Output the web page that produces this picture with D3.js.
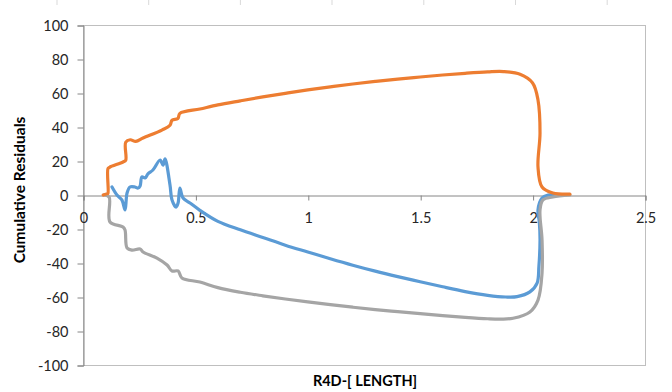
<!DOCTYPE html>
<html><head><meta charset="utf-8">
<script src="https://cdn.jsdelivr.net/npm/d3@7"></script>
<style>body{margin:0;background:#fff}svg{display:block}</style>
</head><body>
<svg id="c" width="672" height="392"></svg>
<script>
const xTicks = [0, 0.5, 1, 1.5, 2, 2.5];
const yTicks = [-100, -80, -60, -40, -20, 0, 20, 40, 60, 80, 100];
const xTitle = "R4D-[ LENGTH]";
const yTitle = "Cumulative Residuals";

const blueX = [0.129,0.151,0.173,0.187,0.196,0.209,0.231,0.245,0.254,0.262,0.276,0.289,0.311,0.343,0.356,0.365,0.387,0.396,0.414,0.423,0.431,0.445,0.476,0.52,0.6,0.7,0.8,0.9,1.0,1.1,1.2,1.3,1.4,1.5,1.6,1.7,1.8,1.88,1.931,1.988,2.02,2.028,2.033,2.03,2.024,2.042,2.07,2.1];
const blueY = [4.7,0,-2.9,-8.8,1.2,4.7,4.7,4.1,5.3,10.6,10,12.4,14.7,20.6,17.6,21.2,5.9,-2.9,-7.1,-4.7,4.1,-1.8,-4.7,-9,-15.5,-20.5,-25,-29.5,-33.5,-37.5,-41.3,-44.8,-48,-51,-54,-56.8,-59,-60,-59.8,-57,-51.8,-42,-26.5,-16,-8.8,-1.8,0,0.3];

const grayX = [0.093,0.116,0.12,0.178,0.187,0.196,0.218,0.254,0.267,0.329,0.374,0.396,0.423,0.44,0.52,0.6,0.7,0.8,0.9,1.0,1.1,1.2,1.3,1.4,1.5,1.6,1.7,1.8,1.86,1.913,1.988,2.024,2.042,2.042,2.033,2.046,2.09,2.166];
const grayY = [0,-1.2,-15.9,-18.8,-20.6,-31.2,-32.4,-31.8,-33.5,-37.1,-41.2,-44.7,-44.7,-48.8,-51.2,-54.5,-57.2,-59.3,-61.2,-62.9,-64.5,-66,-67.4,-68.6,-69.8,-71,-72,-72.8,-73,-72.5,-68.8,-61.8,-45.9,-26.5,-8.8,-2.9,-1.2,0];

const orangeX = [0.09,0.108,0.111,0.111,0.118,0.178,0.19,0.19,0.21,0.235,0.267,0.351,0.387,0.396,0.422,0.431,0.52,0.6,0.7,0.8,0.9,1.0,1.1,1.2,1.3,1.4,1.5,1.6,1.7,1.8,1.87,1.944,2.0,2.024,2.033,2.024,2.042,2.09,2.166];
const orangeY = [0,0.8,1,15.5,16.3,19.4,20.5,31,32.5,31.5,33.5,38.2,41,44,45,48,50.6,53,55.4,57.7,59.8,61.8,63.6,65.3,66.8,68.2,69.4,70.6,71.6,72.4,72.6,71,65.9,55.9,36.5,16.5,4.7,1.2,0.5];

const svg = d3.select("#c");
const L = 83, R = 645, T = 25, B = 365;
const x = d3.scaleLinear().domain([0, 2.5]).range([L, R]);
const y = d3.scaleLinear().domain([-100, 100]).range([B, T]);
const font = "Lato, 'Open Sans', sans-serif";

// faint spreadsheet cell lines at top
[57,148.7,240.4,332,423.8,515.5,607.2].forEach(px => {
  svg.append("line").attr("x1",px).attr("x2",px).attr("y1",0).attr("y2",5)
    .attr("stroke","#d9d9d9").attr("stroke-width",1);
});

// plot area border
svg.append("rect").attr("x",L+0.5).attr("y",T+0.5).attr("width",R-L).attr("height",B-T)
  .attr("fill","none").attr("stroke","#bfbfbf").attr("stroke-width",1);

// y axis
const yAxis = d3.axisLeft(y).tickValues(yTicks).tickSize(6).tickPadding(9).tickFormat(d => String(d));
const gy = svg.append("g").attr("transform",`translate(${L+0.5},0.5)`).call(yAxis);
gy.select(".domain").attr("stroke","#868686");
gy.selectAll(".tick line").attr("stroke","#868686");
gy.selectAll("text").attr("font-family",font).attr("font-size","14.5px").attr("fill","#262626");

// x axis at y=0
const xAxis = d3.axisBottom(x).tickValues(xTicks).tickSize(5).tickPadding(12).tickFormat(d => String(d));
const gx = svg.append("g").attr("transform",`translate(0.5,${y(0)+0.5})`).call(xAxis);
gx.select(".domain").attr("stroke","#868686");
gx.selectAll(".tick line").attr("stroke","#868686");
gx.selectAll("text").attr("font-family",font).attr("font-size","14.5px").attr("fill","#262626");

// series
const line = d3.line().x(d => x(d[0])).y(d => y(d[1])).curve(d3.curveCatmullRom.alpha(0.5));
const series = [
  {xs: blueX, ys: blueY, c: "#5B9BD5"},
  {xs: grayX, ys: grayY, c: "#A5A5A5"},
  {xs: orangeX, ys: orangeY, c: "#ED7D31"}
];
series.forEach(s => {
  svg.append("path").datum(s.xs.map((v,i)=>[v, s.ys[i]]))
    .attr("d", line).attr("fill","none").attr("stroke", s.c)
    .attr("stroke-width",3.2).attr("stroke-linejoin","round").attr("stroke-linecap","round");
});

// titles
svg.append("text").attr("x", 365).attr("y", 386).attr("text-anchor","middle")
  .attr("font-family",font).attr("font-weight","bold").attr("font-size","14.5px").attr("fill","#000")
  .text(xTitle);
svg.append("text").attr("transform","translate(25,190) rotate(-90)").attr("text-anchor","middle")
  .attr("font-family",font).attr("font-weight","bold").attr("font-size","15.5px").attr("fill","#000")
  .text(yTitle);
</script>
</body></html>
